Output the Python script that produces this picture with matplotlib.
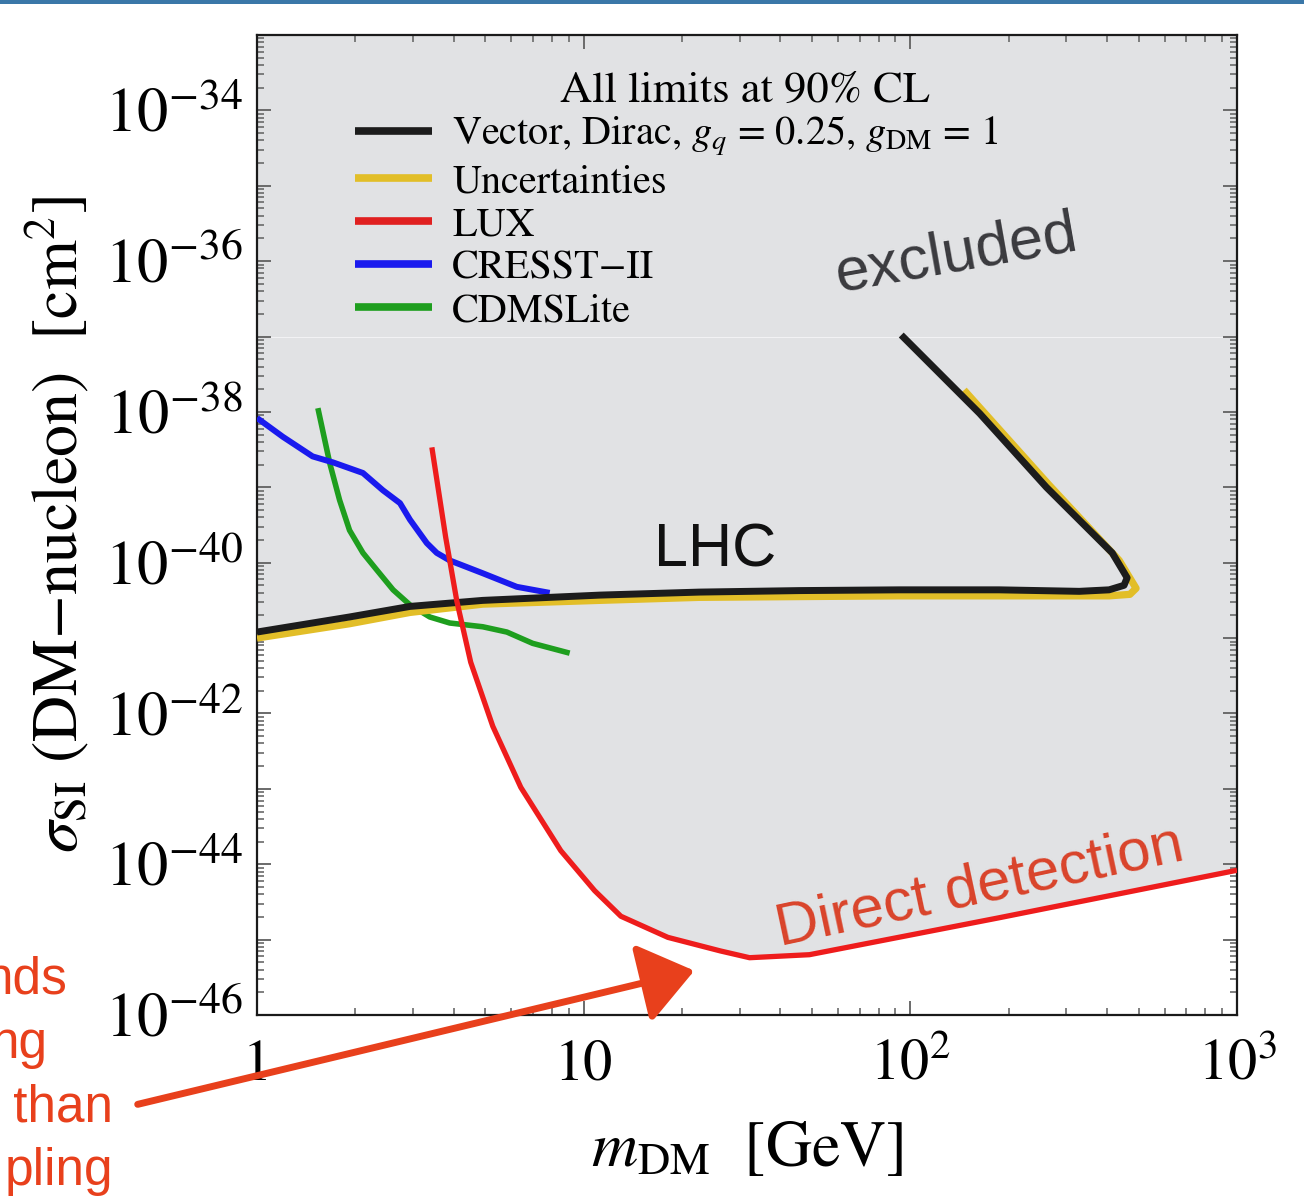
import numpy as np
import matplotlib
matplotlib.use("Agg")
import matplotlib.pyplot as plt
from matplotlib.ticker import LogLocator, FixedLocator, NullFormatter, FuncFormatter
from matplotlib.patches import FancyArrowPatch, Rectangle

plt.rcParams['font.family'] = 'STIXGeneral'
plt.rcParams['mathtext.fontset'] = 'stix'

# LHC limit (vector mediator, Dirac DM), log10(sigma / cm^2)
lhc_m = [1, 1.92, 2.94, 4.91, 11.2, 22.6, 45.8, 92.5, 187, 329, 406, 451, 461, 415, 261, 163, 93.8]
lhc_s = [-40.92, -40.72, -40.58, -40.50, -40.43, -40.39, -40.37, -40.36, -40.36, -40.38,
         -40.36, -40.30, -40.20, -39.87, -39.00, -38.02, -36.98]
lhc_turn = 13  # points on the lower branch

# uncertainty band edge
unc_m = [1, 1.92, 2.94, 4.91, 11.2, 22.6, 92.5, 187, 406, 470, 491, 436, 266, 146]
unc_s = [-41.00, -40.81, -40.66, -40.55, -40.50, -40.46, -40.44, -40.44, -40.44, -40.42,
         -40.34, -39.97, -38.97, -37.71]

# LUX
lux_m = [3.43, 3.78, 4.09, 4.51, 5.27, 6.42, 8.51, 10.8, 13.0, 18.1, 26.2, 32.2, 49.1, 187, 1000]
lux_s = [-38.47, -39.66, -40.51, -41.32, -42.17, -42.98, -43.82, -44.35, -44.69, -44.97, -45.15,
         -45.24, -45.20, -44.71, -44.08]

# CRESST-II
cresst_m = [1, 1.20, 1.48, 1.71, 2.11, 2.43, 2.74, 2.94, 3.31, 3.55, 3.89, 4.91, 6.24, 7.87]
cresst_s = [-38.08, -38.33, -38.59, -38.67, -38.81, -39.04, -39.21, -39.43, -39.74, -39.87,
            -39.97, -40.14, -40.32, -40.40]

# CDMSLite
cdms_m = [1.536, 1.67, 1.79, 1.92, 2.11, 2.33, 2.61, 2.94, 3.38, 3.89, 4.91, 5.82, 6.98, 9.06]
cdms_s = [-37.95, -38.68, -39.17, -39.57, -39.87, -40.10, -40.36, -40.56, -40.72, -40.80,
          -40.85, -40.92, -41.07, -41.20]

W, H = 1304, 1201
fig = plt.figure(figsize=(W / 100, H / 100), dpi=100)
ax = fig.add_axes([257 / W, 1 - 1015 / H, 980 / W, 980 / H])
ax.set_xscale('log')
ax.set_yscale('log')
ax.set_xlim(1, 1000)
ax.set_ylim(1e-46, 1e-33)
ax.set_facecolor('#e1e2e4')

# white (allowed) region below the envelope of LHC lower branch and LUX
grid = np.linspace(0, 3, 800)
lhc_low = np.interp(grid, np.log10(lhc_m[:lhc_turn]), lhc_s[:lhc_turn], left=np.nan, right=np.nan)
lux_low = np.interp(grid, np.log10(lux_m), lux_s, left=np.nan, right=np.nan)
env = np.fmin(lhc_low, lux_low)
ax.fill_between(10 ** grid, 1e-46, 10 ** env, color='white', lw=0, zorder=1)
ax.axhline(1e-37, color='#f2f2f4', lw=0.8, zorder=1)

kw = dict(solid_joinstyle='round', solid_capstyle='butt')
ax.plot(cdms_m, 10 ** np.array(cdms_s), color='#1e9e1e', lw=4.0, zorder=3, **kw)
ax.plot(cresst_m, 10 ** np.array(cresst_s), color='#1a1aee', lw=4.3, zorder=3, **kw)
ax.plot(unc_m, 10 ** np.array(unc_s), color='#e2be28', lw=5.2, zorder=4, **kw)
ax.plot(lhc_m, 10 ** np.array(lhc_s), color='#1c1c1c', lw=5.0, zorder=5, **kw)
ax.plot(lux_m, 10 ** np.array(lux_s), color='#ee1c1c', lw=3.8, zorder=6, **kw)

# legend
colors = ['#1c1c1c', '#e2be28', '#e02020', '#1a1aee', '#1e9e1e']
handles = [plt.Line2D([], [], color=c, lw=5.5, solid_capstyle='butt') for c in colors]
labels = [r'Vector, Dirac, $g_q$ = 0.25, $g_{\rm DM}$ = 1', 'Uncertainties', 'LUX',
          'CRESST\u2212II', 'CDMSLite']
ax.legend(handles, labels, loc='upper left', bbox_to_anchor=(0.1, 0.920), frameon=False,
          fontsize=29, handlelength=1.91, handletextpad=0.5, labelspacing=0.14,
          borderpad=0, borderaxespad=0)
ax.text(0.498, 0.942, 'All limits at 90% CL', transform=ax.transAxes, fontsize=32,
        ha='center', va='center')

# annotations
ax.text(25.2, 10 ** -39.85, 'LHC', fontsize=44, family='Liberation Sans', color='#111111',
        ha='center', va='center')
ax.text(138, 10 ** -35.92, 'excluded', fontsize=44, family='Liberation Sans', color='#3a3a3e',
        ha='center', va='center', rotation=10, rotation_mode='anchor')
ax.text(163, 10 ** -44.30, 'Direct detection', fontsize=43, family='Liberation Sans',
        color='#d9432a', ha='center', va='center', rotation=12, rotation_mode='anchor')

# ticks
ax.xaxis.set_major_locator(FixedLocator([1, 10, 100, 1000]))
ax.xaxis.set_minor_locator(LogLocator(base=10, subs=np.arange(2, 10), numticks=20))
ax.xaxis.set_minor_formatter(NullFormatter())
ax.xaxis.set_major_formatter(FuncFormatter(
    lambda v, p: {1: '1', 10: '10', 100: r'$10^2$', 1000: r'$10^3$'}.get(int(round(v)), '')))
ax.yaxis.set_major_locator(FixedLocator([10.0 ** e for e in range(-46, -32)]))
ax.yaxis.set_minor_locator(LogLocator(base=10, subs=np.arange(2, 10), numticks=30))
ax.yaxis.set_minor_formatter(NullFormatter())
ax.yaxis.set_major_formatter(FuncFormatter(
    lambda v, p: r'$10^{%d}$' % round(np.log10(v))
    if round(np.log10(v)) % 2 == 0 and -46 <= round(np.log10(v)) <= -34 else ''))
ax.tick_params(which='both', direction='in', top=True, right=True, color='#6a6a6a')
ax.tick_params(which='major', length=10, width=1.4)
ax.tick_params(which='minor', length=5, width=1.2)
ax.tick_params(axis='x', which='major', pad=18, labelsize=42)
ax.tick_params(axis='y', which='major', pad=10, labelsize=45)
for s in ax.spines.values():
    s.set_color('#1a1a1a')
    s.set_linewidth(1.6)

ax.set_xlabel(r'$m_{\rm DM}$  [GeV]', fontsize=46, labelpad=20)
ax.set_ylabel(r'$\sigma_{\rm SI}$ (DM$-$nucleon)  [cm$^2$]', fontsize=46, labelpad=10)

# slide decorations
fig.add_artist(Rectangle((0, 1 - 4 / H), 1, 4 / H, transform=fig.transFigure,
                         color='#3a77a8', lw=0))
red = '#e8401c'
for txt, xr, yb in [('nds', 68, 993), ('ng', 48, 1058), (' than', 113, 1122), ('pling', 113, 1185)]:
    fig.text(xr / W, 1 - yb / H, txt, fontsize=37, family='Liberation Sans', color=red,
             ha='right', va='baseline')
arrow = FancyArrowPatch((135 / W, 1 - 1105 / H), (697 / W, 1 - 970 / H),
                        transform=fig.transFigure, arrowstyle='-|>,head_length=0.6,head_width=0.45',
                        mutation_scale=55, color=red, lw=5)
fig.add_artist(arrow)

fig.savefig('out.png', dpi=100)
